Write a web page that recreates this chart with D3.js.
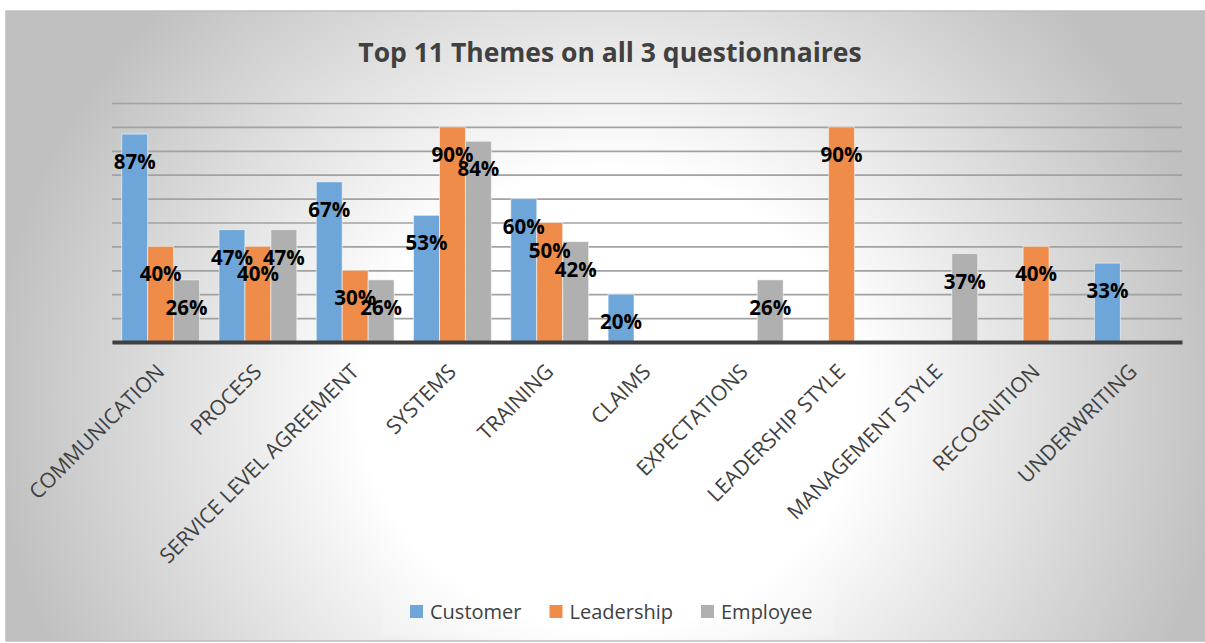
<!DOCTYPE html>
<html>
<head>
<meta charset="utf-8">
<script src="https://cdn.jsdelivr.net/npm/d3@7"></script>
<style>
  html, body { margin: 0; padding: 0; background: #ffffff; }
  svg { display: block; }
  text { font-family: "Open Sans", "DejaVu Sans", sans-serif; }
</style>
</head>
<body>
<svg id="chart" width="1205" height="643"></svg>
<script>
// Themes, one group of bars per theme
const categories = [
  "COMMUNICATION", "PROCESS", "SERVICE LEVEL AGREEMENT", "SYSTEMS", "TRAINING",
  "CLAIMS", "EXPECTATIONS", "LEADERSHIP STYLE", "MANAGEMENT STYLE", "RECOGNITION", "UNDERWRITING"
];
const seriesNames = ["Customer", "Leadership", "Employee"];
// Share of responses mentioning each theme (null = theme not in that questionnaire's top list)
const customer   = [0.87, 0.47, 0.67, 0.53, 0.60, 0.20, null, null, null, null, 0.33];
const leadership = [0.40, 0.40, 0.30, 0.90, 0.50, null, null, 0.90, null, 0.40, null];
const employee   = [0.26, 0.47, 0.26, 0.84, 0.42, null, 0.26, null, 0.37, null, null];
const gridTicks  = [0, 0.1, 0.2, 0.3, 0.4, 0.5, 0.6, 0.7, 0.8, 0.9, 1.0];
const titleText  = "Top 11 Themes on all 3 questionnaires";

const seriesValues = [customer, leadership, employee];
const colors = ["#6fa6d9", "#ef8c4a", "#b0b0b0"];

const W = 1205, H = 643;
const plot = { left: 112, right: 1182, top: 103, bottom: 342 };

const svg = d3.select("#chart");

// Card background: soft radial grey-to-white fill
const defs = svg.append("defs");
const grad = defs.append("radialGradient")
  .attr("id", "bg")
  .attr("gradientUnits", "userSpaceOnUse")
  .attr("cx", 610).attr("cy", 400).attr("r", 620)
  .attr("gradientTransform", "translate(610,400) scale(1,0.92) translate(-610,-400)");
grad.append("stop").attr("offset", 0).attr("stop-color", "#ffffff");
grad.append("stop").attr("offset", 0.4).attr("stop-color", "#ffffff");
grad.append("stop").attr("offset", 1).attr("stop-color", "#c0c0c0");

svg.append("rect")
  .attr("x", 6).attr("y", 11).attr("width", W).attr("height", 630)
  .attr("fill", "url(#bg)")
  .attr("stroke", "#bdbdbd").attr("stroke-width", 1.5);

// Title
svg.append("text")
  .attr("x", 610).attr("y", 62)
  .attr("text-anchor", "middle")
  .attr("font-size", 26.5).attr("font-weight", 700)
  .attr("fill", "#404040")
  .text(titleText);

// Scales
const x0 = d3.scaleBand()
  .domain(categories)
  .range([plot.left, plot.right])
  .paddingInner(0.2).paddingOuter(0.1);
const x1 = d3.scaleBand()
  .domain(seriesNames)
  .range([0, x0.bandwidth()])
  .padding(0);
const y = d3.scaleLinear().domain([0, 1]).range([plot.bottom, plot.top]);

// Horizontal gridlines
const grid = svg.append("g")
  .attr("transform", `translate(${plot.left},0)`)
  .call(d3.axisLeft(y).tickValues(gridTicks).tickSize(-(plot.right - plot.left)).tickFormat(""));
grid.select(".domain").remove();
grid.selectAll(".tick line").attr("stroke", "#a2a2a2").attr("stroke-width", 1.7);

// Bars
const rows = [];
categories.forEach((c, i) => {
  seriesNames.forEach((s, j) => {
    const v = seriesValues[j][i];
    if (v != null) rows.push({ cat: c, series: s, idx: j, value: v });
  });
});

svg.append("g").selectAll("rect")
  .data(rows)
  .join("rect")
  .attr("x", d => x0(d.cat) + x1(d.series))
  .attr("y", d => y(d.value))
  .attr("width", x1.bandwidth())
  .attr("height", d => y(0) - y(d.value))
  .attr("fill", d => colors[d.idx])
  .attr("stroke", "rgba(255,255,255,0.55)")
  .attr("stroke-width", 1);

// Category axis with rotated labels
const xAxis = svg.append("g")
  .attr("transform", `translate(0,${plot.bottom})`)
  .call(d3.axisBottom(x0).tickSize(0).tickSizeOuter(0));
xAxis.select(".domain").attr("stroke", "#404040").attr("stroke-width", 4);
xAxis.selectAll(".tick text")
  .attr("x", 0).attr("y", 0).attr("dy", 0)
  .attr("transform", "translate(5,31) rotate(-45)")
  .attr("text-anchor", "end")
  .attr("font-size", 21)
  .attr("font-family", "'Open Sans', sans-serif")
  .attr("fill", "#404040");

// Value labels, inside the top of each bar
const pct = d3.format(".0%");
svg.append("g").selectAll("text")
  .data(rows)
  .join("text")
  .attr("x", d => x0(d.cat) + x1(d.series) + x1.bandwidth() / 2)
  .attr("y", d => y(d.value) + 35)
  .attr("text-anchor", "middle")
  .attr("font-size", 20.5).attr("font-weight", 700)
  .attr("fill", "#000000")
  .text(d => pct(d.value));

// Legend
svg.append("rect")
  .attr("x", 383).attr("y", 589).attr("width", 450).attr("height", 46)
  .attr("fill", "#ffffff").attr("opacity", 0.15);
const legend = svg.append("g");
let lx = 410;
seriesNames.forEach((s, j) => {
  legend.append("rect")
    .attr("x", lx).attr("y", 605).attr("width", 13).attr("height", 13)
    .attr("fill", colors[j]);
  const t = legend.append("text")
    .attr("x", lx + 20).attr("y", 619)
    .attr("font-size", 20).attr("fill", "#404040")
    .text(s);
  lx += 20 + t.node().getComputedTextLength() + 28;
});
</script>
</body>
</html>
